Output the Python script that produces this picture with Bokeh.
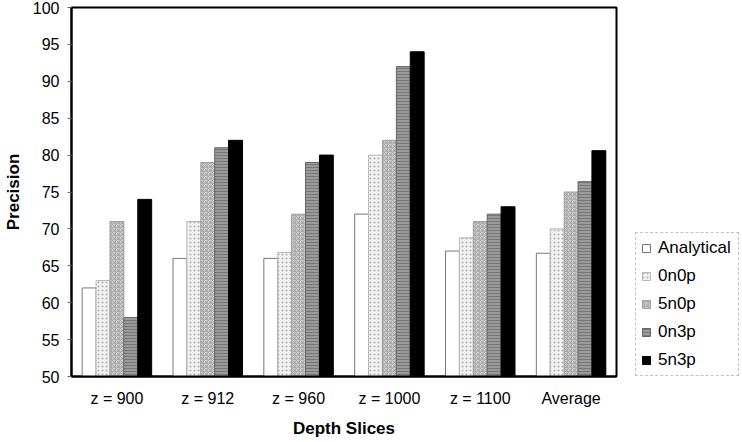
from bokeh.plotting import figure
from bokeh.models import ColumnDataSource, FactorRange, Range1d, Legend, LegendItem
from bokeh.transform import dodge
from bokeh.embed import file_html
from bokeh.resources import INLINE

categories = ["z = 900", "z = 912", "z = 960", "z = 1000", "z = 1100", "Average"]
series = ["Analytical", "0n0p", "5n0p", "0n3p", "5n3p"]
analytical = [62, 66, 66, 72, 67, 66.7]
v_0n0p = [63, 71, 66.8, 80, 68.8, 70]
v_5n0p = [71, 79, 72, 82, 71, 75]
v_0n3p = [58, 81, 79, 92, 72, 76.4]
v_5n3p = [74, 82, 80, 94, 73, 80.6]
y_ticks = [50, 55, 60, 65, 70, 75, 80, 85, 90, 95, 100]

source = ColumnDataSource(dict(cat=categories, Analytical=analytical, v0n0p=v_0n0p,
                               v5n0p=v_5n0p, v0n3p=v_0n3p, v5n3p=v_5n3p))

FONT = "Liberation Sans"
p = figure(frame_width=545, frame_height=369,
           x_range=FactorRange(*categories, range_padding=0),
           y_range=Range1d(50, 100), output_backend="svg", toolbar_location=None,
           min_border_left=66, min_border_right=124, min_border_top=7, min_border_bottom=64)

bw = 0.153
styles = [
    ("Analytical", dict(fill_color="white", line_color="#777777")),
    ("v0n0p", dict(fill_color="#f2f2f2", line_color="#b8b8b8", hatch_pattern="dot",
                   hatch_color="#b0b0b0", hatch_scale=4)),
    ("v5n0p", dict(fill_color="#d6d6d6", line_color="#a0a0a0", hatch_pattern="criss_cross",
                   hatch_color="#a8a8a8", hatch_scale=4)),
    ("v0n3p", dict(fill_color="#9a9a9a", line_color="#666666", hatch_pattern="horizontal_line",
                   hatch_color="#777777", hatch_scale=3)),
    ("v5n3p", dict(fill_color="black", line_color="black")),
]
offsets = [-2 * bw, -bw, 0, bw, 2 * bw]
renderers = []
for (col, st), off in zip(styles, offsets):
    r = p.vbar(x=dodge("cat", off, range=p.x_range), top=col, bottom=50, width=bw,
               source=source, line_width=1, **st)
    renderers.append(r)

legend = Legend(items=[LegendItem(label=s, renderers=[r]) for s, r in zip(series, renderers)],
                location=(19, 0), orientation="vertical")
legend.label_text_font = FONT
legend.label_text_font_size = "17px"
legend.label_text_color = "black"
legend.glyph_width = 10
legend.glyph_height = 10
legend.label_height = 20
legend.label_width = 75
legend.spacing = 8
legend.padding = 5
legend.margin = 0
legend.label_standoff = 7
legend.border_line_color = "#888888"
legend.border_line_width = 1
legend.border_line_dash = "2 1"
legend.background_fill_color = "white"
p.add_layout(legend, "right")

p.xgrid.visible = False
p.ygrid.visible = False
p.outline_line_color = "black"
p.outline_line_width = 2

p.yaxis.ticker = y_ticks
p.yaxis.axis_line_color = "black"
p.yaxis.axis_line_width = 2
p.yaxis.major_tick_out = 4
p.yaxis.major_tick_in = 0
p.yaxis.minor_tick_out = 0
p.yaxis.minor_tick_in = 0
p.yaxis.major_tick_line_color = "#666666"
p.yaxis.major_label_text_font = FONT
p.yaxis.major_label_text_font_size = "16px"
p.yaxis.major_label_text_color = "black"
p.yaxis.major_label_standoff = 8
p.yaxis.axis_label = "Precision"
p.yaxis.axis_label_text_font = FONT
p.yaxis.axis_label_text_font_size = "17px"
p.yaxis.axis_label_text_font_style = "bold"
p.yaxis.axis_label_text_color = "black"
p.yaxis.axis_label_standoff = 7

p.xaxis.axis_line_color = "black"
p.xaxis.axis_line_width = 2
p.xaxis.major_tick_out = 0
p.xaxis.major_tick_in = 0
p.xaxis.major_label_text_font = FONT
p.xaxis.major_label_text_font_size = "16px"
p.xaxis.major_label_text_color = "black"
p.xaxis.major_label_standoff = 13
p.xaxis.axis_label = "Depth Slices"
p.xaxis.axis_label_text_font = FONT
p.xaxis.axis_label_text_font_size = "17px"
p.xaxis.axis_label_text_font_style = "bold"
p.xaxis.axis_label_text_color = "black"
p.xaxis.axis_label_standoff = 9

open("out.html", "w").write(file_html(p, INLINE))
